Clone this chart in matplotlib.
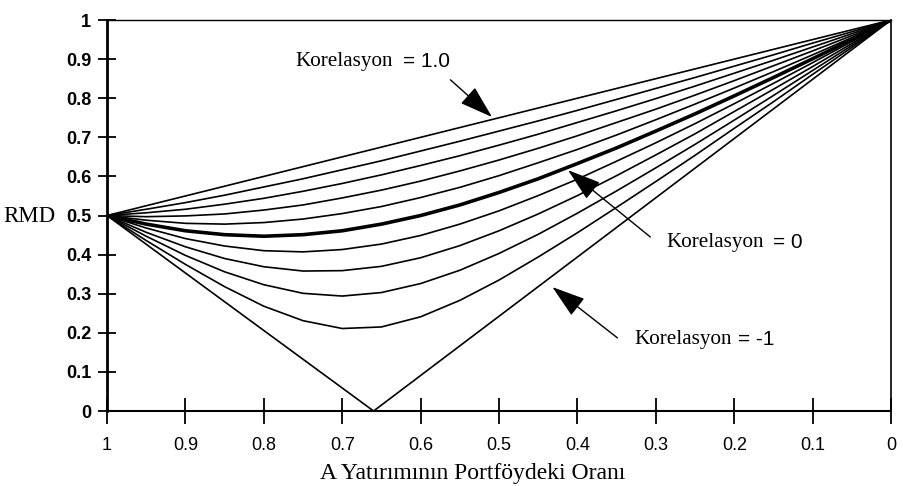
import numpy as np
import matplotlib.pyplot as plt

# share of investment A in the portfolio (x axis, read right to left)
weights = [1.0, 0.95, 0.9, 0.85, 0.8, 0.75, 0.7, 0.65, 0.6, 0.55, 0.5,
           0.45, 0.4, 0.35, 0.3, 0.25, 0.2, 0.15, 0.1, 0.05, 0.0]

# portfolio risk (RMD), one row per correlation
correlations = [1.0, 0.8, 0.6, 0.4, 0.2, 0.0, -0.2, -0.4, -0.6, -0.8]
risk = [
    [0.5, 0.525, 0.55, 0.575, 0.6, 0.625, 0.65, 0.675, 0.7, 0.725, 0.75,
     0.775, 0.8, 0.825, 0.85, 0.875, 0.9, 0.925, 0.95, 0.975, 1.0],
    [0.5, 0.516, 0.533, 0.552, 0.573, 0.594, 0.617, 0.640, 0.665, 0.690, 0.716,
     0.742, 0.769, 0.797, 0.825, 0.853, 0.882, 0.911, 0.941, 0.970, 1.0],
    [0.5, 0.507, 0.516, 0.529, 0.544, 0.562, 0.582, 0.604, 0.628, 0.653, 0.680,
     0.708, 0.738, 0.768, 0.799, 0.831, 0.864, 0.897, 0.931, 0.965, 1.0],
    [0.5, 0.497, 0.499, 0.504, 0.514, 0.527, 0.545, 0.565, 0.588, 0.614, 0.642,
     0.672, 0.704, 0.738, 0.772, 0.808, 0.845, 0.883, 0.921, 0.960, 1.0],
    [0.5, 0.488, 0.480, 0.478, 0.482, 0.491, 0.505, 0.523, 0.546, 0.572, 0.602,
     0.635, 0.669, 0.706, 0.745, 0.785, 0.826, 0.868, 0.911, 0.955, 1.0],
    [0.5, 0.478, 0.461, 0.451, 0.447, 0.451, 0.461, 0.478, 0.500, 0.527, 0.559,
     0.594, 0.633, 0.673, 0.716, 0.760, 0.806, 0.853, 0.901, 0.950, 1.0],
    [0.5, 0.468, 0.441, 0.422, 0.410, 0.407, 0.413, 0.427, 0.449, 0.478, 0.512,
     0.551, 0.593, 0.639, 0.686, 0.735, 0.786, 0.838, 0.891, 0.945, 1.0],
    [0.5, 0.457, 0.420, 0.390, 0.369, 0.358, 0.359, 0.370, 0.392, 0.423, 0.461,
     0.504, 0.551, 0.602, 0.655, 0.709, 0.766, 0.823, 0.881, 0.940, 1.0],
    [0.5, 0.447, 0.398, 0.356, 0.323, 0.301, 0.294, 0.303, 0.326, 0.360, 0.403,
     0.452, 0.506, 0.563, 0.622, 0.682, 0.744, 0.807, 0.871, 0.935, 1.0],
    [0.5, 0.436, 0.375, 0.318, 0.268, 0.231, 0.211, 0.215, 0.241, 0.283, 0.335,
     0.394, 0.456, 0.521, 0.587, 0.654, 0.723, 0.791, 0.861, 0.930, 1.0],
]

# correlation = -1 is a V that touches zero
neg_weights = [1.0, 0.66, 0.0]
neg_risk = [0.5, 0.0, 1.0]

# callouts: label number, where the text sits, arrow tail and arrow tip
callout_numbers = ["= 1.0", "= 0", "= -1"]
callout_text_left = [(0.760, 0.893), (0.286, 0.432), (0.327, 0.182)]
callout_text_right = [0.563, 0.113, 0.149]
arrow_tails = [(0.562, 0.847), (0.307, 0.445), (0.349, 0.187)]
arrow_tips = [(0.509, 0.752), (0.412, 0.616), (0.432, 0.317)]

tick_labels = ["0", "0.1", "0.2", "0.3", "0.4", "0.5", "0.6", "0.7", "0.8", "0.9", "1"]

sans = "Liberation Sans"
serif = "Liberation Serif"

fig = plt.figure(figsize=(9.04, 4.86), dpi=100)
ax = fig.add_axes([0.1184, 0.1543, 0.8673, 0.8045])

for rho, row in zip(correlations, risk):
    lw = 2.6 if rho == 0.0 else 1.2
    ax.plot(weights, row, color="black", lw=lw, solid_capstyle="round")
ax.plot(neg_weights, neg_risk, color="black", lw=1.2)

ax.set_xlim(1, 0)
ax.set_ylim(0, 1)

ax.set_xticks(np.arange(0, 1.01, 0.1))
ax.set_xticklabels(tick_labels, fontfamily=sans, fontsize=13)
ax.set_yticks(np.arange(0, 1.01, 0.1))
ax.set_yticklabels(tick_labels, fontfamily=sans, fontsize=13, fontweight="bold")
ax.tick_params(axis="x", direction="inout", length=19, width=1.3, pad=9)
ax.tick_params(axis="y", direction="inout", length=13, width=1.3, pad=5)

ax.spines["left"].set_linewidth(2.0)
ax.spines["bottom"].set_linewidth(1.5)
ax.spines["top"].set_linewidth(1.0)
ax.spines["right"].set_linewidth(1.2)

fig.text(0.061, 0.5543, "RMD", fontfamily=serif, fontsize=16.5,
         ha="right", va="center")
fig.text(0.523, 0.014, "A Yatırımının Portföydeki Oranı", fontfamily=serif,
         fontsize=17, ha="center", va="baseline")

arrow = dict(arrowstyle="-|>,head_length=1.4,head_width=0.45", color="black",
             lw=1.0, mutation_scale=15, shrinkA=0, shrinkB=0)
for num, left, right, tail, tip in zip(callout_numbers, callout_text_left,
                                       callout_text_right, arrow_tails, arrow_tips):
    ax.text(left[0], left[1], "Korelasyon", fontfamily=serif, fontsize=15.2,
            ha="left", va="center")
    ax.text(right, left[1], num, fontfamily=sans, fontsize=15,
            ha="right", va="center")
    ax.annotate("", xy=tip, xytext=tail, arrowprops=arrow)

fig.savefig("out.png", dpi=100)
